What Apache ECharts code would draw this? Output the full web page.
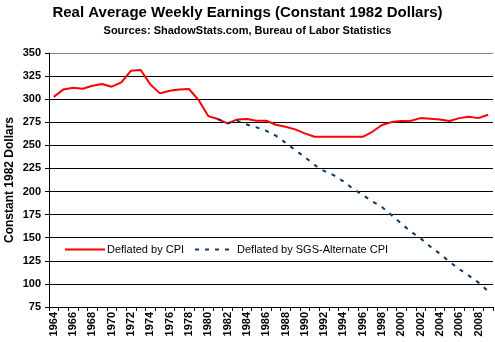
<!DOCTYPE html>
<html><head><meta charset="utf-8">
<script src="https://cdn.jsdelivr.net/npm/echarts@6/dist/echarts.min.js"></script>
<style>html,body{margin:0;padding:0;background:#fff}#c{width:495px;height:342px}</style>
</head><body><div id="c"></div>
<script>
var years = [];
for (var y = 1964; y <= 2009; y++) years.push(String(y));
var cpiSeries = [302.5, 310.6, 312.4, 311.3, 314.5, 316.4, 313.5, 318.2, 330.8, 331.6,
  316.0, 306.3, 309.2, 310.6, 311.0, 299.0, 281.7, 278.5, 273.8, 278.1,
  278.5, 276.6, 276.6, 272.3, 270.1, 267.3, 263.0, 259.3, 259.3, 259.3,
  259.3, 259.3, 259.3, 264.7, 272.0, 275.2, 276.3, 276.6, 279.5, 278.8,
  278.1, 276.3, 279.5, 281.0, 279.5, 283.1];
var sgsSeries = [null, null, null, null, null, null, null, null, null, null,
  null, null, null, null, null, null, null, 278.5, 273.8, 276.5,
  272.5, 269.5, 265.8, 260.5, 252.8, 244.9, 237.5, 228.8, 222.3, 217.7,
  211.0, 203.0, 196.2, 189.4, 183.2, 174.4, 165.3, 156.5, 149.3, 140.4,
  132.7, 124.0, 116.0, 109.0, 101.4, 92.0];
var seriesNames = ['Deflated by CPI', 'Deflated by SGS-Alternate CPI'];
var titleText = 'Real Average Weekly Earnings (Constant 1982 Dollars)';
var subtitleText = 'Sources: ShadowStats.com, Bureau of Labor Statistics';
var yName = 'Constant 1982 Dollars';

var FF = 'Arial, "Liberation Sans", sans-serif';
var chart = echarts.init(document.getElementById('c'));
chart.setOption({
  animation: false,
  backgroundColor: '#fff',
  title: {
    text: titleText, subtext: subtitleText, left: 'center', top: 0, itemGap: 5,
    textStyle: {fontFamily: FF, fontSize: 15, fontWeight: 'bold', color: '#000'},
    subtextStyle: {fontFamily: FF, fontSize: 11, fontWeight: 'bold', color: '#000'}
  },
  grid: {left: 49, right: 2, top: 53, bottom: 35, containLabel: false, outerBoundsMode: 'none'},
  legend: {
    left: 59, top: 239, itemWidth: 40, itemHeight: 10, itemGap: 10,
    itemStyle: {opacity: 0},
    textStyle: {fontFamily: FF, fontSize: 11, color: '#000', padding: [0, 0, 0, -3]},
    data: seriesNames
  },
  xAxis: {
    type: 'category', data: years, boundaryGap: true,
    axisLine: {lineStyle: {color: '#000', width: 1}},
    axisTick: {show: true, interval: 0, length: 4, lineStyle: {color: '#000'}},
    axisLabel: {interval: 1, rotate: 90, margin: 5, fontFamily: FF, fontSize: 11, fontWeight: 'bold', color: '#000'},
    splitLine: {show: false}
  },
  yAxis: {
    type: 'value', min: 75, max: 350, interval: 25,
    name: yName, nameLocation: 'middle', nameGap: 33, nameMoveOverlap: false,
    nameTextStyle: {fontFamily: FF, fontSize: 12, fontWeight: 'bold', color: '#000'},
    axisLine: {show: true, lineStyle: {color: '#000'}},
    axisTick: {show: true, length: 4, lineStyle: {color: '#000'}},
    axisLabel: {margin: 8, fontFamily: FF, fontSize: 11, fontWeight: 'bold', color: '#000'},
    splitLine: {lineStyle: {color: ['#000', '#000', '#000', '#000', '#000', '#000', '#000', '#000', '#000', '#000', '#000', '#888'], width: 1}}
  },
  series: [
    {name: seriesNames[0], type: 'line', data: cpiSeries, symbol: 'none',
     lineStyle: {color: '#ff0000', width: 2}, itemStyle: {color: '#ff0000'}},
    {name: seriesNames[1], type: 'line', data: sgsSeries, symbol: 'none', connectNulls: false,
     lineStyle: {color: '#0a3a6a', width: 2, type: [4, 6]}, itemStyle: {color: '#0a3a6a'}}
  ]
});
</script></body></html>
